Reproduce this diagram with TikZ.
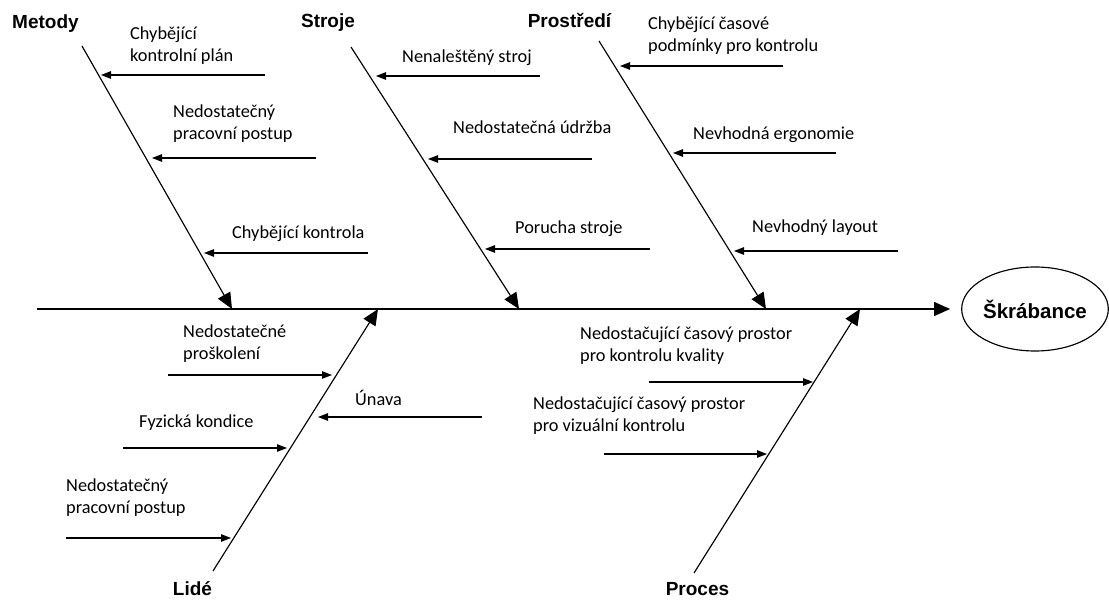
\documentclass[tikz,border=0pt]{standalone}
\usepackage{fontspec}
\setmainfont{Carlito}
\newfontfamily\headfont{Liberation Sans}
\usetikzlibrary{arrows.meta,shapes.geometric}
\newcommand\twoline[2]{\begin{tabular}[t]{@{}l@{}}#1\\#2\end{tabular}}

\begin{document}
\begin{tikzpicture}[x=1pt,y=-1pt,
  bone/.style={line width=1.15pt,-{Triangle[length=16pt,width=14pt]}},
  twig/.style={line width=1.15pt,-{Triangle[length=10pt,width=7.5pt]}},
  cause/.style={font=\fontsize{18.3}{22}\selectfont,anchor=base west,inner sep=0pt},
  category/.style={font=\headfont\bfseries\fontsize{19}{22}\selectfont,anchor=base,inner sep=0pt},
  effectbox/.style={ellipse,draw,line width=1.15pt,minimum width=144pt,minimum height=84pt,inner sep=0pt,
    font=\headfont\bfseries\fontsize{20.5}{24}\selectfont}]

\useasboundingbox (0,0) rectangle (1109,601);

% spine and effect
\coordinate (spineL) at (37,309);
\node[effectbox] (eff) at (1035,309) {Škrábance};
\draw[bone,shorten >=11pt] (spineL) -- (eff);

% category headings
\node[category] (metody) at (45.5,28.3) {Metody};
\node[category] (stroje) at (328,28) {Stroje};
\node[category] (prostredi) at (569.5,28) {Prostředí};
\node[category] (lide) at (192.5,595) {Lidé};
\node[category] (proces) at (697.5,595) {Proces};

% main bones
\coordinate (mT) at (82,46);   \coordinate (mH) at (232,309);
\coordinate (sT) at (351,47);  \coordinate (sH) at (519,309);
\coordinate (pT) at (599,41);  \coordinate (pH) at (766,309);
\coordinate (lT) at (213,571); \coordinate (lH) at (378,309);
\coordinate (cT) at (694,573); \coordinate (cH) at (860,309);
\draw[bone] (mT) -- (mH);
\draw[bone] (sT) -- (sH);
\draw[bone] (pT) -- (pH);
\draw[bone] (lT) -- (lH);
\draw[bone] (cT) -- (cH);

% Metody causes
\node[cause] (m1) at (130,39.5) {\twoline{Chybějící}{kontrolní plán}};
\node[cause] (m2) at (173,118) {\twoline{Nedostatečný}{pracovní postup}};
\node[cause] (m3) at (232,239) {Chybějící kontrola};
\coordinate (m1s) at (265,75);  \coordinate (m1e) at (101,75);
\coordinate (m2s) at (316,158); \coordinate (m2e) at (152,158);
\coordinate (m3s) at (368,253); \coordinate (m3e) at (204,253);
\draw[twig] (m1s) -- (m1e);
\draw[twig] (m2s) -- (m2e);
\draw[twig] (m3s) -- (m3e);

% Stroje causes
\node[cause] (s1) at (402,63) {Nenaleštěný stroj};
\node[cause] (s2) at (453,134) {Nedostatečná údržba};
\node[cause] (s3) at (515,234) {Porucha stroje};
\coordinate (s1s) at (540,76);  \coordinate (s1e) at (376,76);
\coordinate (s2s) at (592,159); \coordinate (s2e) at (428,159);
\coordinate (s3s) at (650,249); \coordinate (s3e) at (485,249);
\draw[twig] (s1s) -- (s1e);
\draw[twig] (s2s) -- (s2e);
\draw[twig] (s3s) -- (s3e);

% Prostredi causes
\node[cause] (p1) at (648,29.3) {\twoline{Chybějící časové}{podmínky pro kontrolu}};
\node[cause] (p2) at (693,140) {Nevhodná ergonomie};
\node[cause] (p3) at (752,233) {Nevhodný layout};
\coordinate (p1s) at (783,66);  \coordinate (p1e) at (620,66);
\coordinate (p2s) at (836,153); \coordinate (p2e) at (673,153);
\coordinate (p3s) at (898,251); \coordinate (p3e) at (734,251);
\draw[twig] (p1s) -- (p1e);
\draw[twig] (p2s) -- (p2e);
\draw[twig] (p3s) -- (p3e);

% Lide causes
\node[cause] (l1) at (183,338) {\twoline{Nedostatečné}{proškolení}};
\node[cause] (l2) at (355,406) {Únava};
\node[cause] (l3) at (139,428) {Fyzická kondice};
\node[cause] (l4) at (66,492) {\twoline{Nedostatečný}{pracovní postup}};
\coordinate (l1s) at (168,375); \coordinate (l1e) at (332,375);
\coordinate (l2s) at (482,417); \coordinate (l2e) at (318,417);
\coordinate (l3s) at (123,448); \coordinate (l3e) at (287,448);
\coordinate (l4s) at (66,538);  \coordinate (l4e) at (231,538);
\draw[twig] (l1s) -- (l1e);
\draw[twig] (l2s) -- (l2e);
\draw[twig] (l3s) -- (l3e);
\draw[twig] (l4s) -- (l4e);

% Proces causes
\node[cause] (c1) at (580,340) {\twoline{Nedostačující časový prostor}{pro kontrolu kvality}};
\node[cause] (c2) at (533,410) {\twoline{Nedostačující časový prostor}{pro vizuální kontrolu}};
\coordinate (c1s) at (649,382); \coordinate (c1e) at (813,382);
\coordinate (c2s) at (604,454); \coordinate (c2e) at (767,454);
\draw[twig] (c1s) -- (c1e);
\draw[twig] (c2s) -- (c2e);

\end{tikzpicture}
\end{document}
